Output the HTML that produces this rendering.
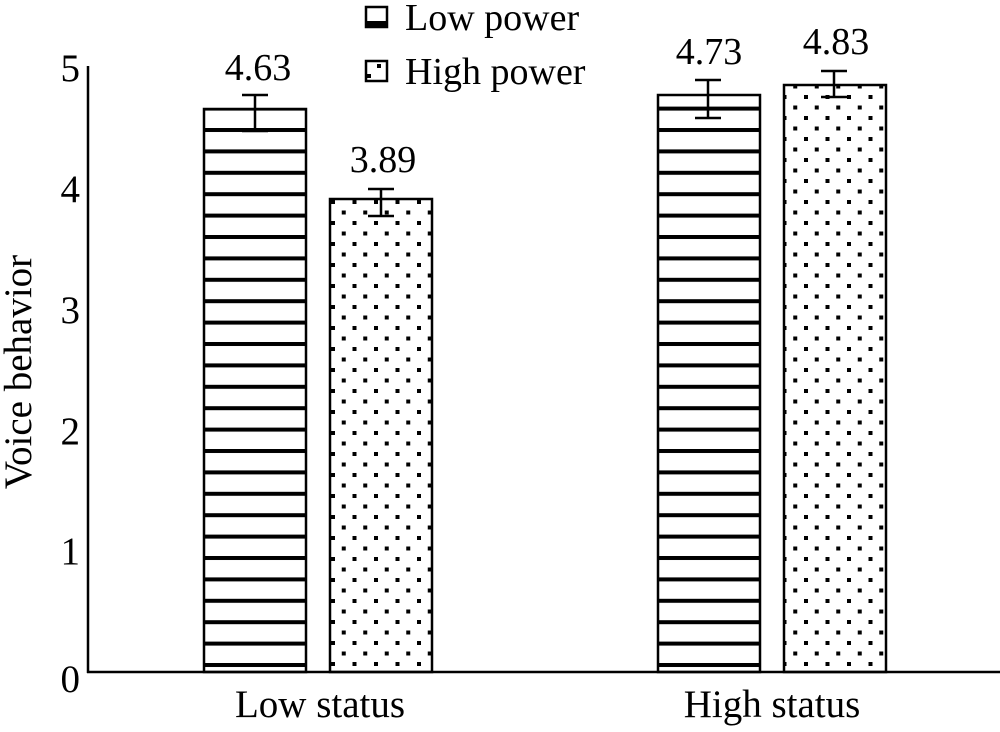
<!DOCTYPE html>
<html><head><style>body{margin:0;background:#fff}svg{display:block}text{font-family:"Liberation Serif",serif;fill:#000}</style></head>
<body>
<svg width="1000" height="732" viewBox="0 0 1000 732">
<defs>
<pattern id="st" patternUnits="userSpaceOnUse" x="0" y="128" width="10" height="21.4">
<rect x="0" y="0" width="10" height="4" fill="#000"/>
</pattern>
<pattern id="dt" patternUnits="userSpaceOnUse" x="331" y="200" width="21.5" height="21">
<rect x="0" y="0" width="4" height="4" fill="#000"/>
<rect x="10.75" y="10.5" width="4" height="4" fill="#000"/>
</pattern>
</defs>
<line x1="88" y1="66" x2="88" y2="673" stroke="#000" stroke-width="2.5"/>
<line x1="87" y1="672" x2="1000" y2="672" stroke="#000" stroke-width="2.5"/>
<g font-size="39" text-anchor="end">
<text x="80" y="81">5</text><text x="80" y="202">4</text><text x="80" y="323">3</text>
<text x="80" y="444">2</text><text x="80" y="564">1</text><text x="80" y="692">0</text>
</g>
<text transform="translate(31,372) rotate(-90)" font-size="39" text-anchor="middle">Voice behavior</text>
<text x="320" y="717" font-size="39" text-anchor="middle">Low status</text>
<text x="772" y="717" font-size="39" text-anchor="middle">High status</text>
<g stroke="#000" stroke-width="2.5">
<rect x="204" y="109" width="102" height="563" fill="url(#st)"/>
<rect x="330" y="199" width="102" height="473" fill="url(#dt)"/>
<rect x="658" y="95" width="102" height="577" fill="url(#st)"/>
<rect x="784" y="85" width="102" height="587" fill="url(#dt)"/>
</g>
<g stroke="#000" stroke-width="2.5">
<line x1="255" y1="95" x2="255" y2="131"/><line x1="242" y1="95" x2="268" y2="95"/><line x1="242" y1="131" x2="268" y2="131"/>
<line x1="381" y1="189" x2="381" y2="216"/><line x1="368" y1="189" x2="394" y2="189"/><line x1="368" y1="216" x2="394" y2="216"/>
<line x1="708" y1="80" x2="708" y2="118"/><line x1="695" y1="80" x2="721" y2="80"/><line x1="695" y1="118" x2="721" y2="118"/>
<line x1="834" y1="71" x2="834" y2="97"/><line x1="821" y1="71" x2="847" y2="71"/><line x1="821" y1="97" x2="847" y2="97"/>
</g>
<g font-size="38" text-anchor="middle">
<text x="258" y="80">4.63</text><text x="383" y="172">3.89</text>
<text x="709" y="64">4.73</text><text x="836" y="54">4.83</text>
</g>
<rect x="366" y="7" width="21" height="20" fill="#fff" stroke="#000" stroke-width="2.5"/>
<rect x="366" y="21" width="21" height="6" fill="#000"/>
<text x="405" y="30" font-size="38">Low power</text>
<rect x="366" y="61" width="21" height="20" fill="#fff" stroke="#000" stroke-width="2.5"/>
<rect x="377" y="64" width="4" height="4" fill="#000"/>
<rect x="367" y="74" width="4" height="4" fill="#000"/>
<text x="405" y="84" font-size="38">High power</text>
</svg>
</body></html>
